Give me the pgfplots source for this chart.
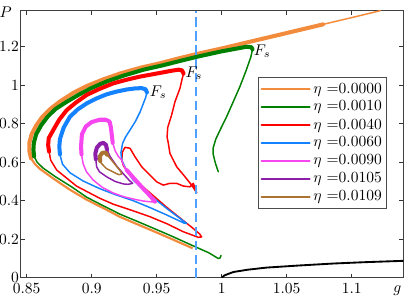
\documentclass[border=0pt]{standalone}
\usepackage{pgfplots}
\pgfplotsset{compat=1.18}
\definecolor{cOr}{RGB}{242,140,60}
\definecolor{cGr}{RGB}{0,128,0}
\definecolor{cRe}{RGB}{255,0,0}
\definecolor{cBl}{RGB}{20,130,255}
\definecolor{cMa}{RGB}{245,70,240}
\definecolor{cPu}{RGB}{140,30,170}
\definecolor{cBr}{RGB}{170,115,50}
\definecolor{cDa}{RGB}{80,160,255}
\pgfplotsset{thk/.style={line width=2.6pt,line join=round,line cap=round},
             thn/.style={line width=0.95pt,line join=round,line cap=round}}
\begin{document}
\begin{tikzpicture}
\begin{axis}[
  scale only axis, width=246.8pt, height=172.3pt,
  xmin=0.8454, xmax=1.1397, ymin=0, ymax=1.386,
  xtick={0.85,0.9,0.95,1,1.05,1.1}, xticklabels={0.85,0.9,0.95,1,1.05,1.1},
  ytick={0,0.2,0.4,0.6,0.8,1,1.2}, yticklabels={0,0.2,0.4,0.6,0.8,1,1.2},
  tick align=inside, major tick length=2.6pt,
  tick style={black!80, line width=0.5pt},
  axis line style={black!75, line width=0.6pt},
  yticklabel style={inner xsep=1pt, inner ysep=0pt},
  xticklabel style={inner xsep=0pt},
  legend style={at={(0.958,0.7506)}, anchor=north east, draw=black!70,
    line width=0.6pt, font=\normalsize, row sep=0pt, inner sep=1.5pt,
    nodes={inner sep=1.7pt}},
  legend cell align=left,
  legend image code/.code={\draw[#1,line width=1.3pt] (0pt,0pt)--(31pt,0pt);},
]
% eta = 0
\addplot[cOr, thk] coordinates {(0.8533,0.62)(0.852,0.66)(0.852,0.70)(0.8538,0.745)(0.8573,0.79)(0.862,0.835)(0.868,0.875)(0.8756,0.915)(0.886,0.96)(0.8962,0.995)(0.909,1.03)(0.9218,1.06)(0.9375,1.09)(0.9525,1.113)(0.966,1.137)(0.98,1.16)(1.0,1.19)(1.0218,1.225)(1.05,1.27)(1.078,1.315)};
\addlegendentry{$\eta$ =0.0000}
\addplot[cOr, thn, forget plot] coordinates {(1.078,1.315)(1.1,1.35)(1.122,1.386)};
\addplot[cOr, line width=1.4pt, forget plot] coordinates {(0.8533,0.62)(0.8564,0.59)(0.8602,0.565)(0.8705,0.515)(0.883,0.458)(0.8962,0.405)(0.91,0.358)(0.9218,0.316)(0.935,0.278)(0.9472,0.243)(0.962,0.2)(0.9777,0.153)};
% eta = 0.001
\addplot[cGr, thk] coordinates {(0.8557,0.63)(0.8552,0.665)(0.8555,0.70)(0.8573,0.745)(0.861,0.79)(0.866,0.835)(0.872,0.875)(0.88,0.91)(0.89,0.95)(0.9,0.985)(0.912,1.02)(0.925,1.05)(0.94,1.08)(0.955,1.103)(0.969,1.127)(0.983,1.15)(1.0,1.175)(1.012,1.19)(1.019,1.199)(1.0228,1.197)(1.0237,1.185)};
\addlegendentry{$\eta$ =0.0010}
\addplot[cGr, thn, forget plot] coordinates {(1.0237,1.185)(1.0225,1.147)(1.0185,1.07)(1.014,0.992)(1.009,0.915)(1.0038,0.836)(0.999,0.77)(0.9955,0.72)(0.9935,0.675)(0.9935,0.64)(0.9952,0.594)(0.9974,0.55)};
\addplot[cGr, thn, forget plot] coordinates {(0.8557,0.63)(0.858,0.6)(0.8625,0.57)(0.872,0.525)(0.885,0.47)(0.8962,0.418)(0.91,0.37)(0.9218,0.33)(0.935,0.293)(0.9472,0.258)(0.962,0.215)(0.978,0.166)(0.99,0.13)(0.9974,0.1)(0.9988,0.103)(0.9995,0.116)};
% eta = 0.004
\addplot[cRe, thk] coordinates {(0.8672,0.655)(0.8665,0.69)(0.867,0.725)(0.8705,0.767)(0.875,0.82)(0.8808,0.87)(0.888,0.91)(0.8962,0.949)(0.906,0.98)(0.9166,1.009)(0.927,1.028)(0.9372,1.044)(0.9525,1.063)(0.962,1.075)(0.967,1.08)(0.9695,1.076)(0.9707,1.06)};
\addlegendentry{$\eta$ =0.0040}
\addplot[cRe, thn, forget plot] coordinates {(0.9707,1.06)(0.9695,1.03)(0.9679,0.983)(0.9641,0.914)(0.9615,0.845)(0.9585,0.78)(0.958,0.73)(0.9589,0.70)(0.9602,0.646)(0.9654,0.576)(0.9718,0.524)(0.9769,0.481)(0.9808,0.441)(0.9795,0.464)(0.9782,0.49)(0.9756,0.472)(0.9705,0.476)(0.9654,0.49)(0.9602,0.49)(0.9551,0.481)(0.95,0.498)(0.9435,0.542)(0.9385,0.576)(0.9333,0.628)(0.9295,0.672)(0.9256,0.677)(0.9237,0.653)(0.9231,0.611)(0.9245,0.58)(0.928,0.55)(0.934,0.505)(0.945,0.44)(0.957,0.37)(0.968,0.31)(0.977,0.262)(0.983,0.228)(0.9846,0.212)(0.982,0.21)(0.9705,0.239)(0.958,0.28)(0.9448,0.317)(0.93,0.352)(0.9166,0.382)(0.9064,0.412)(0.8885,0.475)(0.8731,0.559)(0.8685,0.61)(0.8672,0.655)};
% eta = 0.006
\addplot[cBl, thk] coordinates {(0.8756,0.64)(0.8751,0.68)(0.8756,0.72)(0.8785,0.78)(0.8833,0.836)(0.8895,0.875)(0.8962,0.905)(0.9035,0.93)(0.9115,0.952)(0.919,0.966)(0.9269,0.977)(0.9338,0.983)(0.9385,0.984)(0.9415,0.978)(0.9425,0.962)};
\addlegendentry{$\eta$ =0.0060}
\addplot[cBl, thn, forget plot] coordinates {(0.9425,0.962)(0.9415,0.935)(0.9395,0.9)(0.9372,0.86)(0.9335,0.81)(0.9295,0.767)(0.926,0.73)(0.9238,0.698)(0.9225,0.65)(0.9231,0.611)(0.927,0.555)(0.932,0.507)(0.9385,0.465)(0.9448,0.429)(0.9577,0.36)(0.966,0.318)(0.9715,0.29)(0.9731,0.282)(0.971,0.284)(0.9577,0.326)(0.945,0.364)(0.932,0.40)(0.918,0.432)(0.9064,0.462)(0.8935,0.502)(0.8833,0.545)(0.8775,0.59)(0.8756,0.64)};
% eta = 0.009
\addplot[cMa, thk] coordinates {(0.8922,0.64)(0.8918,0.68)(0.8925,0.745)(0.8955,0.785)(0.9,0.808)(0.906,0.82)(0.911,0.82)(0.9138,0.81)(0.9148,0.78)(0.9155,0.74)(0.9162,0.70)};
\addlegendentry{$\eta$ =0.0090}
\addplot[cMa, thn, forget plot] coordinates {(0.9162,0.70)(0.918,0.66)(0.9205,0.63)(0.9231,0.611)(0.9245,0.585)(0.9269,0.559)};
\addplot[cMa, thk, forget plot] coordinates {(0.9269,0.559)(0.932,0.52)(0.94,0.46)(0.945,0.425)(0.9487,0.395)};
\addplot[cMa, thn, forget plot] coordinates {(0.9487,0.395)(0.9475,0.393)(0.94,0.398)(0.9346,0.405)(0.925,0.42)(0.9166,0.44)(0.908,0.47)(0.9012,0.507)(0.896,0.55)(0.8935,0.59)(0.8922,0.64)};
% eta = 0.0105
\addplot[cPu, thk] coordinates {(0.9032,0.615)(0.9028,0.645)(0.904,0.675)(0.9065,0.695)(0.909,0.70)(0.911,0.69)(0.9118,0.665)};
\addlegendentry{$\eta$ =0.0105}
\addplot[cPu, thn, forget plot] coordinates {(0.9118,0.665)(0.9141,0.63)(0.9192,0.58)(0.9243,0.54)(0.929,0.505)(0.9315,0.49)(0.928,0.485)(0.9243,0.487)(0.918,0.50)(0.9115,0.524)(0.906,0.55)(0.9038,0.576)(0.9032,0.615)};
% eta = 0.0109
\addplot[cBr, thk] coordinates {(0.9066,0.605)(0.9063,0.63)(0.908,0.648)(0.9105,0.65)(0.912,0.638)};
\addlegendentry{$\eta$ =0.0109}
\addplot[cBr, thn, forget plot] coordinates {(0.912,0.638)(0.9141,0.62)(0.9192,0.578)(0.9225,0.55)(0.9231,0.538)(0.921,0.535)(0.9192,0.54)(0.9115,0.566)(0.9077,0.592)(0.9066,0.605)};
% other branch
\addplot[black, line width=1.2pt, forget plot] coordinates {(1.0,0)(1.002,0.012)(1.005,0.02)(1.009,0.03)(1.02,0.042)(1.0346,0.053)(1.06,0.064)(1.0858,0.074)(1.11,0.081)(1.1397,0.088)};
% threshold
\addplot[cDa, line width=1.2pt, dash pattern=on 6pt off 3pt, forget plot] coordinates {(0.98,0)(0.98,1.386)};
\node[anchor=west, inner sep=0pt] at (axis cs:1.0245,1.175) {$F_s$};
\node[anchor=west, inner sep=0pt] at (axis cs:0.972,1.063) {$F_s$};
\node[anchor=west, inner sep=0pt] at (axis cs:0.9445,0.964) {$F_s$};
\end{axis}
\node[anchor=base east, inner sep=0pt] at ([shift={(-5.6pt,-4.6pt)}]current axis.north west) {$P$};
\node[anchor=base east, inner sep=0pt] at ([shift={(-1pt,-9.8pt)}]current axis.south east) {$g$};
\pgfresetboundingbox
\path[use as bounding box] ([shift={(-13.35pt,-11.8pt)}]current axis.south west) rectangle ([shift={(7.55pt,6.9pt)}]current axis.north east);
\end{tikzpicture}
\end{document}
